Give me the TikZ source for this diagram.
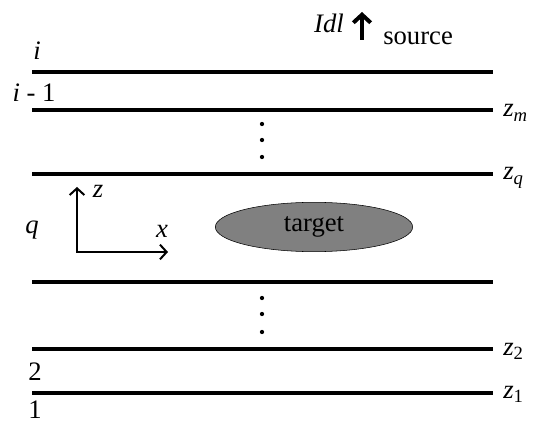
\documentclass[tikz,border=0pt]{standalone}
\usepackage{fontspec}
\setmainfont{Liberation Serif}
\usetikzlibrary{arrows.meta,shapes.geometric}

\begin{document}
\begin{tikzpicture}[x=0.75pt,y=-0.75pt,
  every node/.style={font=\fontsize{20}{24}\selectfont, inner sep=0pt},
  layer/.style={line width=3pt},
  axis/.style={line width=1.5pt, {Straight Barb[length=5pt,width=11pt]}-{Straight Barb[length=5pt,width=11pt]}},
  zlabel/.style={anchor=base west}]
  \useasboundingbox (0,0) rectangle (534,423);

  % interfaces between the layers
  \foreach \y in {72,110,174,282,349,393}
    \draw[layer] (32,\y) -- (493,\y);
  \foreach \y in {124,140,157,298,314,332}
    \fill (262,\y) circle (1.6pt);

  % layer numbers
  \node[anchor=base] (li) at (37,60) {\textit{i}};
  \node[anchor=base] (lim) at (34,102) {\textit{i} - 1};
  \node[anchor=base] (lq) at (32,234) {\textit{q}};
  \node[anchor=base] (l2) at (35,380) {2};
  \node[anchor=base] (l1) at (35,418) {1};

  % interface depths
  \node[zlabel] (zm) at (503,117) {\textit{z}\textsubscript{\textit{m}}};
  \node[zlabel] (zq) at (503,180) {\textit{z}\textsubscript{\textit{q}}};
  \node[zlabel] (z2) at (503,355) {\textit{z}\textsubscript{2}};
  \node[zlabel] (z1) at (503,398) {\textit{z}\textsubscript{1}};

  % source
  \node[anchor=base] (idl) at (329,33) {\textit{Idl}};
  \coordinate (sbot) at (362,40);
  \coordinate (stop) at (362,12);
  \draw[line width=3pt, -{Straight Barb[length=6pt,width=13pt]}] (sbot) -- (stop);
  \node[anchor=base west] (src) at (383,45) {source};

  % axes
  \coordinate (o) at (77,252);
  \coordinate (zend) at (77,187);
  \coordinate (xend) at (168,252);
  \draw[axis] (zend) -- (o) -- (xend);
  \node[anchor=base] (zlab) at (98,198) {\textit{z}};
  \node[anchor=base] (xlab) at (162,238) {\textit{x}};

  % target
  \node[ellipse, draw, fill=gray, minimum width=148pt, minimum height=37pt] (target) at (314,227) {target};
\end{tikzpicture}
\end{document}
